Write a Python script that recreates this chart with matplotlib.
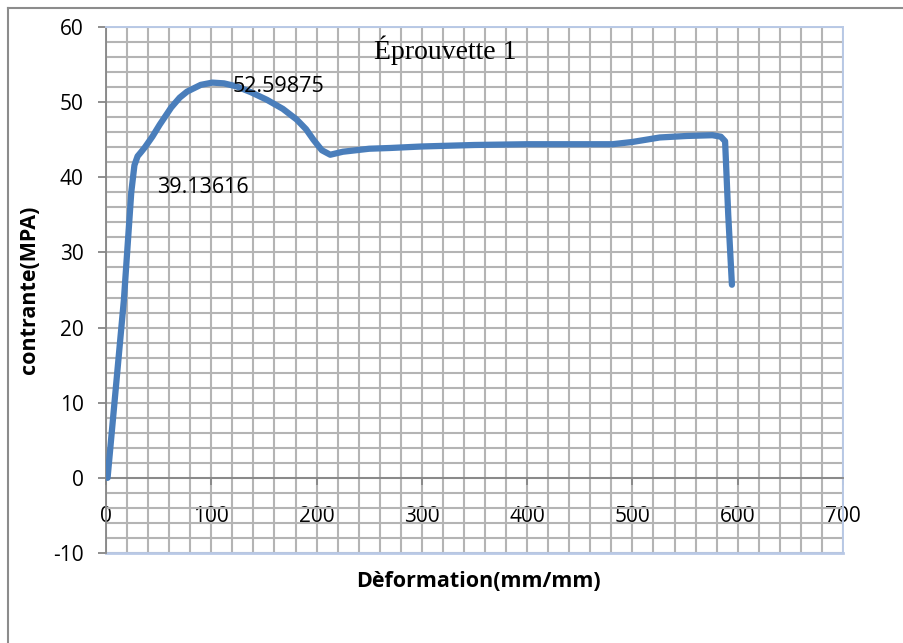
import matplotlib
matplotlib.use("Agg")
import matplotlib.pyplot as plt
from matplotlib.ticker import MultipleLocator
from matplotlib.lines import Line2D

plt.rcParams["axes.unicode_minus"] = False

# Data
deformation = [1.5, 17, 24, 27, 30, 33, 37, 44, 51, 62, 70, 77, 90, 101, 112, 124,
               138, 153, 168, 181, 190, 197, 205, 213, 225, 250, 270, 300, 350, 400,
               450, 481, 500, 526, 552, 576, 584, 588, 591, 594.5]
contrainte = [0, 23.7, 38.0, 41.6, 42.8, 43.3, 44.0, 45.4, 47.0, 49.3, 50.6, 51.4, 52.3, 52.6,
              52.5, 52.1, 51.3, 50.3, 49.1, 47.7, 46.4, 45.0, 43.6, 43.0, 43.4, 43.8, 43.9,
              44.1, 44.3, 44.4, 44.4, 44.4, 44.7, 45.3, 45.5, 45.6, 45.4, 44.8, 35, 25.7]

x_ticks = [0, 100, 200, 300, 400, 500, 600, 700]
y_ticks = [-10, 0, 10, 20, 30, 40, 50, 60]

title = "Éprouvette 1"
labels = [("52.59875", 120.6, 52.1), ("39.13616", 48.4, 38.6)]

fig = plt.figure(figsize=(9.04, 6.43), dpi=100)
ax = fig.add_axes([106/904, 1-553/643, (843-106)/904, (553-27)/643])

sans = ["Open Sans", "DejaVu Sans"]
grid_c = "#B4B4B4"
blue_border = "#B9C9E6"

ax.set_xlim(0, 700)
ax.set_ylim(-10, 60)
ax.set_xticks(x_ticks)
ax.set_yticks(y_ticks)
ax.xaxis.set_minor_locator(MultipleLocator(20))
ax.yaxis.set_minor_locator(MultipleLocator(2))
ax.grid(True, which="both", color=grid_c, linewidth=1.5, zorder=0)
ax.set_axisbelow(True)

ax.spines["bottom"].set_position(("data", 0))
ax.spines["bottom"].set_color("#868686")
ax.spines["bottom"].set_linewidth(1.3)
ax.spines["left"].set_color("#868686")
ax.spines["left"].set_linewidth(1.3)
ax.spines["top"].set_color(blue_border)
ax.spines["right"].set_color(blue_border)
ax.spines["top"].set_linewidth(1.4)
ax.spines["right"].set_linewidth(1.4)
ax.axhline(-10, color=blue_border, linewidth=2.0, zorder=1, clip_on=False)

ax.tick_params(axis="x", which="major", direction="out", length=5, width=1.3,
               color="#868686", pad=15, labelsize=15)
ax.tick_params(axis="y", which="major", direction="out", length=6, width=1.3,
               color="#868686", pad=10, labelsize=15)
ax.tick_params(which="minor", length=0)
for lab in ax.get_xticklabels() + ax.get_yticklabels():
    lab.set_fontfamily(sans)

ax.plot(deformation, contrainte, color="#4A7EBB", linewidth=4.5,
        solid_joinstyle="round", solid_capstyle="round", zorder=3)

ax.text(0.46, 0.955, title, transform=ax.transAxes, ha="center", va="center",
        fontsize=20, family=["Liberation Serif", "DejaVu Serif"])
for txt, xv, yv in labels:
    ax.text(xv, yv, txt, ha="left", va="center", fontsize=15.5, family=sans, zorder=4)

ax.set_xlabel("Dèformation(mm/mm)", fontsize=15.5, fontweight="bold", family=sans)
ax.xaxis.set_label_coords(0.505, -0.035)
ax.set_ylabel("contrante(MPA)", fontsize=15.5, fontweight="bold", family=sans)
ax.yaxis.set_label_coords(-0.09, 0.5)

# Outer chart frame (left and top visible)
fig.add_artist(Line2D([8/904, 8/904], [0, 1-8/643], transform=fig.transFigure,
                      color="#8C8C8C", linewidth=1.5))
fig.add_artist(Line2D([8/904, 1], [1-8/643, 1-8/643], transform=fig.transFigure,
                      color="#8C8C8C", linewidth=1.5))

fig.savefig("out.png", dpi=100, facecolor="white")
